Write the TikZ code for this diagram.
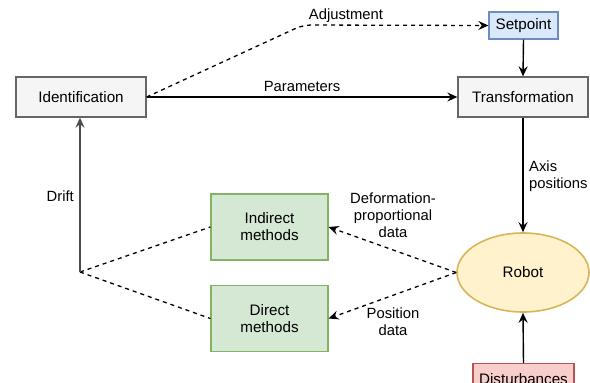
\documentclass[tikz,border=0pt]{standalone}
\usepackage{fontspec}
\setmainfont{Liberation Sans}
\usetikzlibrary{arrows.meta,shapes.geometric}
\definecolor{grayfill}{HTML}{F5F5F5}
\definecolor{grayline}{HTML}{666666}
\definecolor{bluefill}{HTML}{DAE8FC}
\definecolor{blueline}{HTML}{6C8EBF}
\definecolor{greenfill}{HTML}{D5E8D4}
\definecolor{greenline}{HTML}{82B366}
\definecolor{yellowfill}{HTML}{FFF2CC}
\definecolor{yellowline}{HTML}{D6B656}
\definecolor{redfill}{HTML}{F8CECC}
\definecolor{redline}{HTML}{B85450}
\begin{document}
\begin{tikzpicture}[x=1pt,y=-1pt,
  every node/.style={font=\fontsize{15.2}{17}\selectfont, align=center, inner sep=0pt},
  box/.style={draw, line width=1.3pt, minimum width=#1, rectangle},
  graybox/.style={box=130pt, fill=grayfill, draw=grayline, minimum height=40pt},
  greenbox/.style={box=117pt, fill=greenfill, draw=greenline, minimum height=66pt},
  arr/.style={line width=1.4pt, -{Stealth[length=10pt,width=9pt,inset=3.5pt]}},
  darr/.style={arr, dashed, dash pattern=on 4pt off 4pt, line width=1.3pt},
  dline/.style={dashed, dash pattern=on 4pt off 4pt, line width=1.3pt},
  lbl/.style={font=\fontsize{14.8}{17}\selectfont}]
\useasboundingbox (0,0) rectangle (590,383);
\clip (0,0) rectangle (590,383);
\node[graybox] (ident) at (81,97) {Identification};
\node[graybox] (trans) at (523,97) {Transformation};
\node[box=69pt, fill=bluefill, draw=blueline, minimum height=27pt] (set) at (523.5,25.5) {Setpoint};
\node[greenbox] (ind) at (269.5,227) {Indirect\\methods};
\node[greenbox] (dir) at (269.5,318.5) {Direct\\methods};
\node[ellipse, draw=yellowline, fill=yellowfill, line width=1.6pt, minimum width=132pt, minimum height=79pt] (robot) at (523,272.5) {Robot};
\node[box=101pt, fill=redfill, draw=redline, minimum height=30pt, anchor=north] (dist) at (523.5,363) {Disturbances};
\coordinate (drift) at (80,272);
\coordinate (bend) at (303,25);
% connectors
\draw[darr, rounded corners=8pt] (ident.east) -- (bend) -- (set.west);
\draw[arr] (ident.east) -- (trans.west);
\draw[arr] (set.south) -- (trans.north);
\draw[arr] (trans.south) -- (robot.north);
\draw[arr] (dist.north) -- (robot.south);
\draw[darr] (robot.west) -- (ind.east);
\draw[darr] (robot.west) -- (dir.east);
\draw[dline] (drift) -- (ind.west);
\draw[dline] (drift) -- (dir.west);
\draw[arr, draw=black!70] (drift) -- (drift |- ident.south);
% labels
\node[lbl] at (346,16) {Adjustment};
\node[lbl] at (302,86) {Parameters};
\node[lbl, align=left, anchor=west] at (529,176) {Axis\\positions};
\node[lbl, anchor=east] at (74,196) {Drift};
\node[lbl] at (393,215) {Deformation-\\proportional\\data};
\node[lbl] at (393,322) {Position\\data};
\end{tikzpicture}
\end{document}
